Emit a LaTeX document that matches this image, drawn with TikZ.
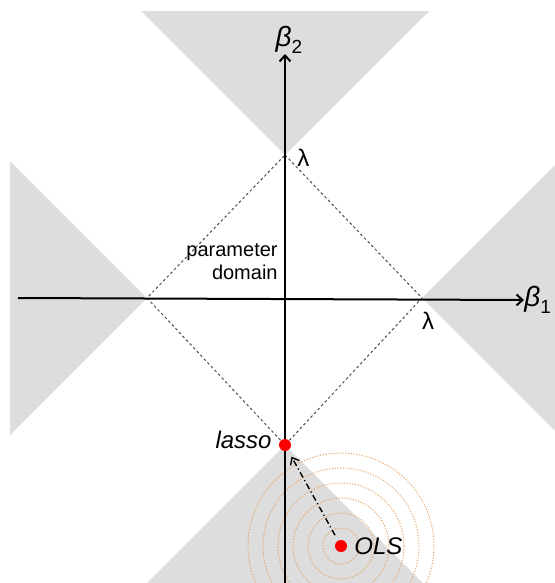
\documentclass[tikz,border=0pt]{standalone}
\usepackage{fontspec}
\setmainfont{Liberation Sans}
\usetikzlibrary{positioning, calc, arrows.meta}
\definecolor{conegray}{RGB}{221,221,221}
\definecolor{ringtan}{RGB}{228,168,108}

\begin{document}
\begin{tikzpicture}[
        x=0.5pt, y=-0.5pt,
        cone/.style={
            fill=conegray,
            draw=none
        },
        axis/.style={
            -{Straight Barb[length=3pt,width=5.5pt]},
            line width=1pt,
            black
        },
        domainline/.style={
            black!70,
            line width=0.5pt,
            dash pattern=on 1.3pt off 1.3pt
        },
        ring/.style={
            ringtan,
            line width=0.5pt,
            dash pattern=on 0.6pt off 0.8pt
        },
        dot/.style={
            circle,
            fill=red,
            inner sep=0pt,
            minimum size=6pt
        },
        path/.style={
            -{Straight Barb[length=3pt,width=5pt]},
            line width=0.7pt,
            dash pattern=on 3pt off 1.5pt on 0.6pt off 1.5pt
        },
        lab/.style={
            font=\fontsize{10}{11.5}\selectfont,
            inner sep=0pt
        },
        estlab/.style={
            font=\fontsize{12}{14}\selectfont\itshape,
            inner sep=0pt
        }
    ]
        \useasboundingbox (0,0) rectangle (555,583);
        \coordinate (O) at (285,298);
        \coordinate (top) at (285,155);
        \coordinate (right) at (422,298);
        \coordinate (bottom) at (285,445);
        \coordinate (left) at (147,298);

        % shaded cones beyond the corners
        \begin{scope}
            \clip (10,12) rectangle (555,583);
            \fill [cone] (top) -- ++(-300,-300) -- ++(600,0) -- cycle;
            \fill [cone] (right) -- ++(300,-300) -- ++(0,600) -- cycle;
            \fill [cone] (left) -- ++(-300,-300) -- ++(0,600) -- cycle;
            \fill [cone] (bottom) -- ++(-300,300) -- ++(600,0) -- cycle;
        \end{scope}

        \draw [domainline] (top) -- (right) -- (bottom) -- (left) -- cycle;

        % OLS contours
        \node [dot] (ols) at (341,546) {};
        \begin{scope}
            \clip (0,0) rectangle (555,583);
            \foreach \r in {18,33,...,93}
                \draw [ring] (ols) circle [radius=\r];
        \end{scope}

        % axes
        \coordinate (xstart) at (18,298);
        \coordinate (ystart) at (285,583);
        \node [anchor=west, inner sep=0pt] (b1) at (524,300)
            {\fontsize{14}{16}\selectfont\textit{β}\raisebox{-0.45ex}{\fontsize{9.5}{10}\selectfont 1}};
        \node [anchor=south, inner sep=0pt] (b2) at (289,54)
            {\fontsize{14}{16}\selectfont\textit{β}\raisebox{-0.45ex}{\fontsize{9.5}{10}\selectfont 2}};
        \draw [axis] (xstart) -- (b1.west);
        \draw [axis] (ystart) -- (O |- b2.south);

        \node [lab, anchor=west, font=\fontsize{12}{14}\selectfont] (lamtop) at (297,158) {λ};
        \node [lab, anchor=north, font=\fontsize{12}{14}\selectfont] (lamright) at (428,312) {λ};
        \node [lab, anchor=east, align=right] (domain) at (278,262) {parameter\\domain};

        \node [dot] (lasso) at (bottom) {};
        \node [estlab, anchor=east] (lassolab) at (272,440) {lasso};
        \node [estlab, anchor=west] (olslab) at (354,546) {OLS};

        \draw [path, shorten <=3pt, shorten >=3.5pt] (ols) -- (lasso);
    \end{tikzpicture}
\end{document}
